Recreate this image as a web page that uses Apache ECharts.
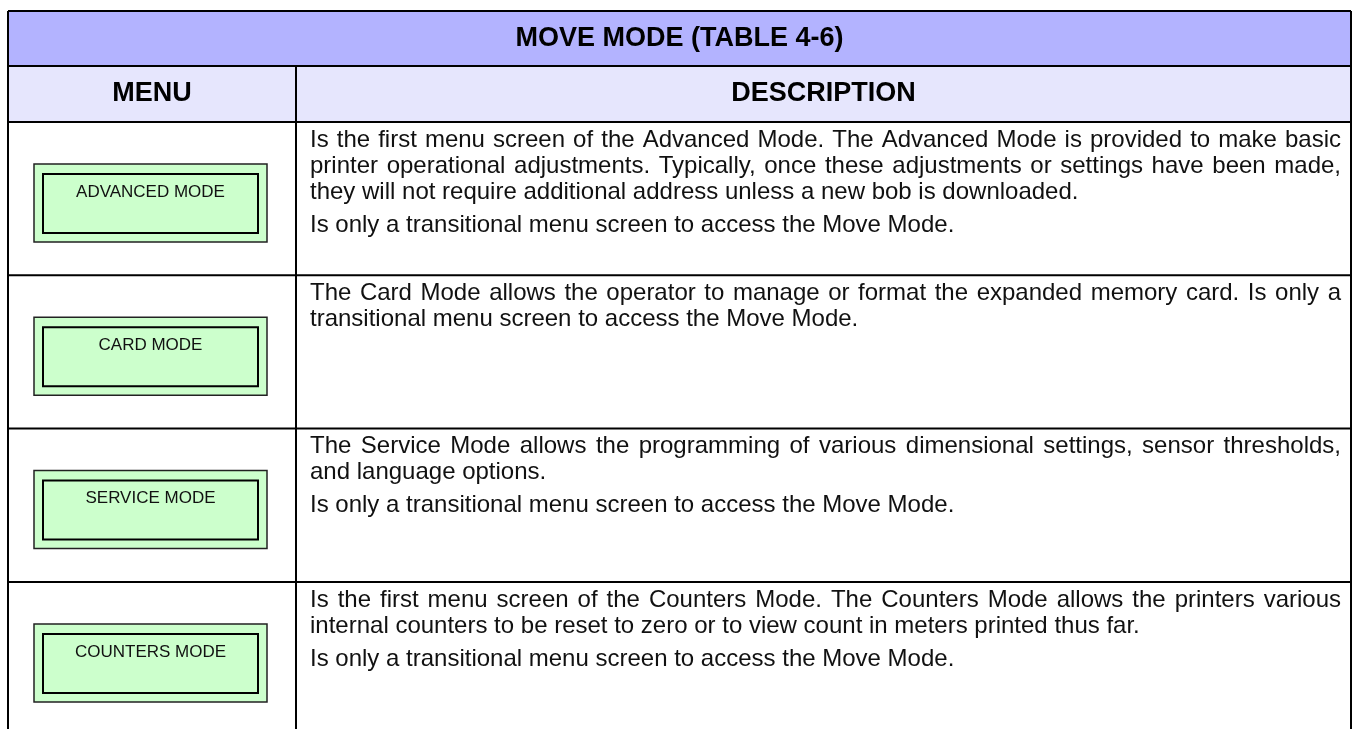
<!DOCTYPE html>
<html>
<head>
<meta charset="utf-8">
<script src="https://cdn.jsdelivr.net/npm/echarts@6/dist/echarts.min.js"></script>
<style>
html,body{margin:0;padding:0;background:#fff;}
#chart{width:1353px;height:729px;}
</style>
</head>
<body>
<div id="chart"></div>
<script>
// ---- data ----
var tableTitle = "MOVE MODE (TABLE 4-6)";
var columnHeaders = ["MENU", "DESCRIPTION"];
var menuLabels = ["ADVANCED MODE", "CARD MODE", "SERVICE MODE", "COUNTERS MODE"];
var descAdvanced = [
  ["Is the first menu screen of the Advanced Mode. The Advanced Mode is provided to make basic",
   "printer operational adjustments. Typically, once these adjustments or settings have been made,",
   "they will not require additional address unless a new bob is downloaded."],
  ["Is only a transitional menu screen to access the Move Mode."]
];
var descCard = [
  ["The Card Mode allows the operator to manage or format the expanded memory card. Is only a",
   "transitional menu screen to access the Move Mode."]
];
var descService = [
  ["The Service Mode allows the programming of various dimensional settings, sensor thresholds,",
   "and language options."],
  ["Is only a transitional menu screen to access the Move Mode."]
];
var descCounters = [
  ["Is the first menu screen of the Counters Mode. The Counters Mode allows the printers various",
   "internal counters to be reset to zero or to view count in meters printed thus far."],
  ["Is only a transitional menu screen to access the Move Mode."]
];
var descriptions = [descAdvanced, descCard, descService, descCounters];

// ---- layout / style ----
var L = {
  left: 8, right: 1351, top: 11,
  titleBottom: 66, headBottom: 122,
  rowH: 153.3, colX: 296,
  textLeft: 310, textRight: 1341,
  firstLine: 18, lineH: 26, paraGap: 7,
  boxOuter: [34, 42, 233, 78], boxInset: 9,
  border: 2
};
var FONT_FAMILY = '"Liberation Sans", Arial, Helvetica, sans-serif';
var BODY_SIZE = 24, HEAD_SIZE = 27, BOX_SIZE = 17;
var C = { title: '#b3b3ff', head: '#e6e6fd', green: '#ccffcc', line: '#000000' };

var measureCtx = document.createElement('canvas').getContext('2d');
measureCtx.font = BODY_SIZE + 'px ' + FONT_FAMILY;
function tw(s){ return measureCtx.measureText(s).width; }

function lineEl(x1,y1,x2,y2,w){
  return {type:'line', shape:{x1:x1,y1:y1,x2:x2,y2:y2}, style:{stroke:C.line, lineWidth:w||L.border}};
}
function textEl(str,x,y,opts){
  return {type:'text', style:Object.assign({text:str, x:x, y:y, fill:'#111',
    font: BODY_SIZE+'px '+FONT_FAMILY, textAlign:'left', textVerticalAlign:'middle'}, opts||{})};
}

function renderFrame(params, api){
  var ch = [];
  ch.push({type:'rect', shape:{x:L.left, y:L.top, width:L.right-L.left, height:L.titleBottom-L.top}, style:{fill:C.title}});
  ch.push({type:'rect', shape:{x:L.left, y:L.titleBottom, width:L.right-L.left, height:L.headBottom-L.titleBottom}, style:{fill:C.head}});
  ch.push(textEl(tableTitle, (L.left+L.right)/2, (L.top+L.titleBottom)/2,
    {textAlign:'center', font:'bold '+HEAD_SIZE+'px '+FONT_FAMILY, fill:'#000'}));
  ch.push(textEl(columnHeaders[0], (L.left+L.colX)/2, (L.titleBottom+L.headBottom)/2,
    {textAlign:'center', font:'bold '+HEAD_SIZE+'px '+FONT_FAMILY, fill:'#000'}));
  ch.push(textEl(columnHeaders[1], (L.colX+L.right)/2, (L.titleBottom+L.headBottom)/2,
    {textAlign:'center', font:'bold '+HEAD_SIZE+'px '+FONT_FAMILY, fill:'#000'}));
  var H = api.getHeight();
  ch.push(lineEl(L.left, L.top, L.right, L.top));
  ch.push(lineEl(L.left, L.titleBottom, L.right, L.titleBottom));
  ch.push(lineEl(L.left, L.headBottom, L.right, L.headBottom));
  ch.push(lineEl(L.left, L.top, L.left, H+2));
  ch.push(lineEl(L.right, L.top, L.right, H+2));
  ch.push(lineEl(L.colX, L.titleBottom, L.colX, H+2));
  return {type:'group', children:ch};
}

function renderRow(params, api){
  var i = api.value(0);
  var top = L.headBottom + i*L.rowH;
  var bottom = top + L.rowH;
  var ch = [];
  if (i < menuLabels.length - 1) ch.push(lineEl(L.left, bottom, L.right, bottom));
  var b = L.boxOuter, bx = b[0], by = top + b[1], bw = b[2], bh = b[3], ins = L.boxInset;
  ch.push({type:'rect', shape:{x:bx, y:by, width:bw, height:bh}, style:{fill:C.green, stroke:'#222', lineWidth:1.5}});
  ch.push({type:'rect', shape:{x:bx+ins, y:by+ins+1, width:bw-2*ins, height:bh-2*ins-1}, style:{fill:C.green, stroke:'#000', lineWidth:2}});
  ch.push(textEl(menuLabels[i], bx+bw/2, by+ins+19, {textAlign:'center', font:BOX_SIZE+'px '+FONT_FAMILY, fill:'#111'}));
  var paras = descriptions[i];
  var y = top + L.firstLine;
  var avail = L.textRight - L.textLeft;
  paras.forEach(function(lines, pi){
    if (pi > 0) y += L.paraGap;
    lines.forEach(function(line, li){
      var last = (li === lines.length - 1);
      if (last) {
        ch.push(textEl(line, L.textLeft, y));
      } else {
        var words = line.split(' ');
        var wsum = 0; words.forEach(function(w){ wsum += tw(w); });
        var gap = (avail - wsum) / (words.length - 1);
        var x = L.textLeft;
        words.forEach(function(w){ ch.push(textEl(w, x, y)); x += tw(w) + gap; });
      }
      y += L.lineH;
    });
  });
  return {type:'group', children:ch};
}

var chart = echarts.init(document.getElementById('chart'), null, {renderer:'canvas'});
chart.setOption({
  animation:false,
  series:[
    {type:'custom', coordinateSystem:'none', renderItem:renderFrame, data:[[0]], silent:true},
    {type:'custom', coordinateSystem:'none', renderItem:renderRow, data:menuLabels.map(function(_,k){return [k];}), silent:true}
  ]
});
</script>
</body>
</html>
